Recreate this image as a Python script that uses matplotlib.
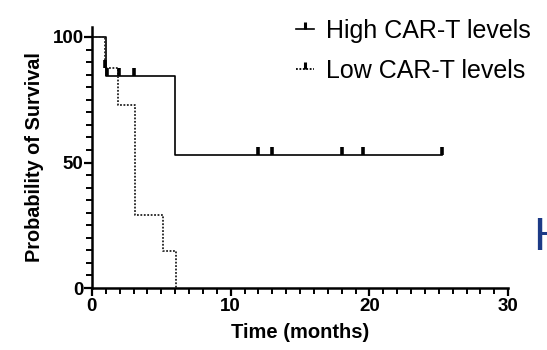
import matplotlib
matplotlib.use("Agg")
import matplotlib.pyplot as plt
from matplotlib.lines import Line2D
from matplotlib.ticker import MultipleLocator

plt.rcParams['font.family'] = ['Liberation Sans', 'DejaVu Sans']

# Kaplan-Meier step data (time in months, survival in %)
high_times = [0, 1.05, 6.0, 25.2]
high_surv = [100, 84.6, 52.9, 52.9]
high_censor = [1.1, 1.95, 3.05, 12.0, 13.0, 18.0, 19.55, 25.2]

low_times = [0, 0.95, 1.88, 3.08, 5.1, 6.05]
low_surv = [100, 87.5, 72.9, 29.2, 14.6, 0]
low_censor = [0.97]

series_labels = ["High CAR-T levels", "Low CAR-T levels"]


def surv_at(times, surv, t):
    val = surv[0]
    for ti, si in zip(times, surv):
        if ti <= t:
            val = si
    return val


fig = plt.figure(figsize=(5.47, 3.5), dpi=100)
ax = fig.add_axes([0.168, 0.177, 0.761, 0.746])

dotted = (0, (1.0, 0.9))
ax.step(high_times, high_surv, where='post', color='black', lw=1.2, ls='-')
ax.step(low_times, low_surv, where='post', color='#222222', lw=1.3, ls=dotted)

ax.plot(high_censor, [surv_at(high_times, high_surv, t) for t in high_censor],
        ls='none', marker=2, ms=6, mew=2.6, color='black')
ax.plot(low_censor, [surv_at(low_times, low_surv, t) for t in low_censor],
        ls='none', marker=2, ms=6, mew=2.6, color='black')

ax.set_xlim(0, 30)
ax.set_ylim(0, 104)
ax.xaxis.set_major_locator(MultipleLocator(10))
ax.xaxis.set_minor_locator(MultipleLocator(1))
ax.set_yticks([0, 50, 100])
ax.yaxis.set_minor_locator(MultipleLocator(5))

for s in ['top', 'right']:
    ax.spines[s].set_visible(False)
for s in ['left', 'bottom']:
    ax.spines[s].set_linewidth(1.8)
ax.spines['left'].set_bounds(0, 104)

ax.tick_params(which='major', length=5.5, width=1.6, labelsize=13.5, pad=0.5)
ax.tick_params(which='minor', length=4, width=1.4)
ax.tick_params(axis='x', pad=1.5)
for lab in ax.get_xticklabels() + ax.get_yticklabels():
    lab.set_fontweight('bold')

ax.set_xlabel("Time (months)", fontsize=14.5, fontweight='bold', labelpad=6)
ax.set_ylabel("Probability of Survival", fontsize=14.3, fontweight='bold', labelpad=6)

handles = [
    Line2D([0], [0], color='black', lw=1.2, ls='-', marker=2, ms=5, mew=2.2),
    Line2D([0], [0], color='black', lw=1.3, ls=dotted, marker=2, ms=5, mew=2.2),
]
fig.legend(handles, series_labels, loc='upper left', bbox_to_anchor=(0.5, 1.01),
           frameon=False, fontsize=18, handlelength=0.7, handletextpad=0.5,
           labelspacing=0.62)

fig.text(0.975, 0.32, "H", color='#1c3a86', fontsize=34, va='center', ha='left')

fig.savefig("out.png", dpi=100)
